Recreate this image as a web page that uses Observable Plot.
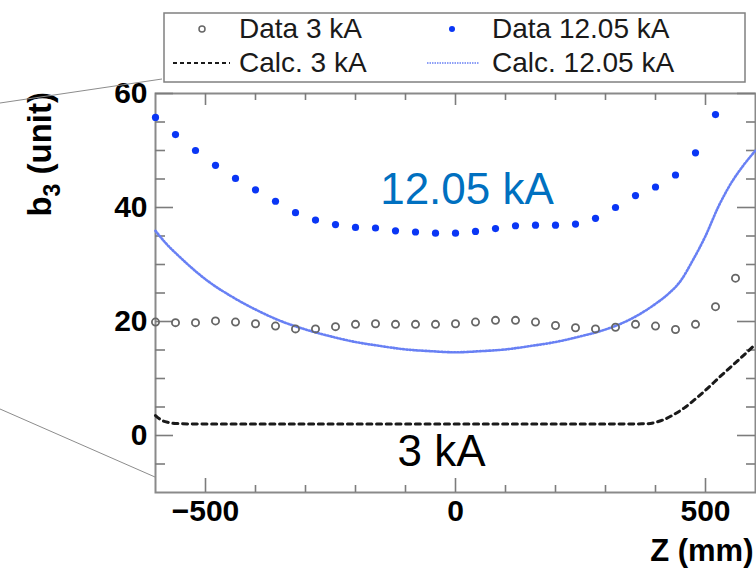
<!DOCTYPE html>
<html><head><meta charset="utf-8">
<script src="https://cdn.jsdelivr.net/npm/d3@7"></script>
<script src="https://cdn.jsdelivr.net/npm/@observablehq/plot@0.6"></script>
<style>body{margin:0;background:#fff}#chart{width:756px;height:568px}</style>
</head><body><div id="chart"></div>
<script>
// ---- data ----
const zData3 = [-600,-560,-520,-480,-440,-400,-360,-320,-280,-240,-200,-160,-120,-80,-40,0,40,80,120,160,200,240,280,320,360,400,440,480,520,560];
const b3Data3 = [19.9,19.8,19.8,20.1,19.9,19.6,19.2,18.7,18.7,19.1,19.5,19.6,19.5,19.5,19.5,19.6,19.9,20.2,20.2,19.9,19.3,18.9,18.7,19.0,19.5,19.2,18.6,19.5,22.6,27.6];
const zData12 = [-600,-560,-520,-480,-440,-400,-360,-320,-280,-240,-200,-160,-120,-80,-40,0,40,80,120,160,200,240,280,320,360,400,440,480,520];
const b3Data12 = [55.8,52.8,50.0,47.4,45.1,43.1,41.1,39.1,37.8,37.0,36.5,36.4,35.9,35.7,35.5,35.5,35.8,36.3,36.8,36.9,36.9,37.1,38.1,40.0,42.1,43.6,45.7,49.6,56.3];
const zCalc12 = [-600,-580,-550,-500,-450,-400,-350,-300,-250,-200,-150,-100,-50,0,50,100,150,200,250,300,350,400,425,450,475,500,525,550,575,600];
const b3Calc12 = [35.9,33.8,31.2,27.4,24.5,22.1,20.1,18.6,17.4,16.4,15.7,15.1,14.8,14.6,14.8,15.1,15.7,16.4,17.4,18.6,20.4,23.1,24.8,27.1,30.8,35.0,40.0,44.1,47.3,50.0];
const zCalc3 = [-600,-590,-575,-560,-500,-300,0,300,380,400,417,437,457,477,497,530,563,600];
const b3Calc3 = [3.5,2.8,2.3,2.1,2.0,2.0,2.0,2.0,2.05,2.3,2.8,3.7,4.8,6.2,7.7,10.4,13.0,16.0];
const xTickLabels = [-500,0,500];
const yTickLabels = [0,20,40,60];
const xMinor = [-400,-300,-200,-100,100,200,300,400];
const yMinor = [-5,5,10,15,25,30,35,45,50,55];
const legendLabels = ["Data 3 kA","Data 12.05 kA","Calc. 3 kA","Calc. 12.05 kA"];
const notes = [{z:23, b:40.7, t:"12.05 kA", c:"#0070c0"},{z:-28, b:-5.4, t:"3 kA", c:"#000"}];

const pts3 = zData3.map((z,i)=>({z, b:b3Data3[i]}));
const pts12 = zData12.map((z,i)=>({z, b:b3Data12[i]}));
const calc12 = zCalc12.map((z,i)=>({z, b:b3Calc12[i]}));
const calc3 = zCalc3.map((z,i)=>({z, b:b3Calc3[i]}));

const FONT = "'Liberation Sans', Arial, Helvetica, sans-serif";
const W = 756, H = 568, mL = 155, mR = 1, mT = 93, mB = 76;
const fw = W - mL - mR, fh = H - mT - mB;
const tickCol = "#7c7c7c";
const blueDot = "#0a36f5", blueLine = "#6880f4", grey = "#666666";

const plot = Plot.plot({
  width: W, height: H,
  marginLeft: mL, marginRight: mR, marginTop: mT, marginBottom: mB,
  x: {domain: [-600, 600]},
  y: {domain: [-10, 60]},
  style: {fontFamily: FONT, background: "white", overflow: "visible"},
  marks: [
    Plot.frame({stroke: "#8a8a8a", strokeWidth: 2}),
    // inward ticks: bottom / top
    Plot.tickX(xTickLabels, {x: d => d, stroke: tickCol, strokeWidth: 1.6, insetTop: fh - 14}),
    Plot.tickX(xMinor, {x: d => d, stroke: tickCol, strokeWidth: 1.6, insetTop: fh - 7}),
    Plot.tickX(xTickLabels, {x: d => d, stroke: tickCol, strokeWidth: 1.6, insetBottom: fh - 12}),
    Plot.tickX(xMinor, {x: d => d, stroke: tickCol, strokeWidth: 1.6, insetBottom: fh - 7}),
    // inward ticks: left / right
    Plot.tickY(yTickLabels, {y: d => d, stroke: tickCol, strokeWidth: 1.6, insetRight: fw - 18}),
    Plot.tickY(yMinor, {y: d => d, stroke: tickCol, strokeWidth: 1.6, insetRight: fw - 10}),
    Plot.tickY(yTickLabels, {y: d => d, stroke: tickCol, strokeWidth: 1.6, insetLeft: fw - 18}),
    Plot.tickY(yMinor, {y: d => d, stroke: tickCol, strokeWidth: 1.6, insetLeft: fw - 9}),
    Plot.axisX(xTickLabels, {tickSize: 0, tickPadding: 7, fontSize: 30, fontWeight: "bold", label: null}),
    Plot.axisY(yTickLabels, {tickSize: 0, tickPadding: 8, fontSize: 30, fontWeight: "bold", label: null}),
    Plot.text(["Z (mm)"], {frameAnchor: "bottom-right", text: d => d, textAnchor: "end", lineAnchor: "bottom", dx: -2, dy: 68, fontSize: 31, fontWeight: "bold"}),
    // calculations
    Plot.line(calc12, {x: "z", y: "b", stroke: blueLine, strokeWidth: 2.6, strokeDasharray: "1.3,1.9", curve: "monotone-x"}),
    Plot.line(calc3, {x: "z", y: "b", stroke: "#1a1a1a", strokeWidth: 3, strokeDasharray: "5,4.7", curve: "monotone-x"}),
    // data
    Plot.dot(pts3, {x: "z", y: "b", r: 3.6, stroke: grey, strokeWidth: 1.8, fill: "none"}),
    Plot.dot(pts12, {x: "z", y: "b", r: 3.6, fill: blueDot, stroke: "none"}),
    // annotations
    Plot.text(notes, {x: "z", y: "b", text: "t", fill: "c", fontSize: 44, textAnchor: "middle", lineAnchor: "bottom"})
  ]
});

document.getElementById("chart").appendChild(plot);
const svg = d3.select(plot);

// y-axis title with subscript
const yt = svg.append("text")
  .attr("transform", "translate(51,92) rotate(-90)")
  .attr("text-anchor", "end")
  .attr("font-family", FONT).attr("font-size", 33).attr("font-weight", "bold").attr("fill", "#000");
yt.append("tspan").text("b");
yt.append("tspan").attr("font-size", 23).attr("dy", 9).text("3");
yt.append("tspan").attr("dy", -9).text(" (unit)");

// zoom-guide lines from the original figure
const guides = svg.append("g").attr("stroke", "#8c8c8c").attr("stroke-width", 1);
guides.append("line").attr("x1", 0).attr("y1", 103).attr("x2", 162).attr("y2", 79);
guides.append("line").attr("x1", 0).attr("y1", 409).attr("x2", 155).attr("y2", 477);

// legend
const lg = svg.append("g").attr("font-family", FONT).attr("font-size", 28).attr("fill", "#1a1a1a").attr("text-anchor", "start");
lg.append("rect").attr("x", 164).attr("y", 13).attr("width", 581).attr("height", 69)
  .attr("fill", "white").attr("stroke", "#808080").attr("stroke-width", 1.5);
const cols = [239, 492], rows = [38, 72];
lg.append("text").attr("x", cols[0]).attr("y", rows[0]).text(legendLabels[0]);
lg.append("text").attr("x", cols[1]).attr("y", rows[0]).text(legendLabels[1]);
lg.append("text").attr("x", cols[0]).attr("y", rows[1]).text(legendLabels[2]);
lg.append("text").attr("x", cols[1]).attr("y", rows[1]).text(legendLabels[3]);
lg.append("circle").attr("cx", 202).attr("cy", 29).attr("r", 3).attr("fill", "none").attr("stroke", grey).attr("stroke-width", 1.5);
lg.append("circle").attr("cx", 452).attr("cy", 29).attr("r", 3).attr("fill", blueDot);
lg.append("line").attr("x1", 173).attr("x2", 230).attr("y1", 63).attr("y2", 63).attr("stroke", "#1a1a1a").attr("stroke-width", 2.2).attr("stroke-dasharray", "4,3");
lg.append("line").attr("x1", 427).attr("x2", 479).attr("y1", 63).attr("y2", 63).attr("stroke", blueLine).attr("stroke-width", 1.6).attr("stroke-dasharray", "1.5,1");
</script></body></html>
